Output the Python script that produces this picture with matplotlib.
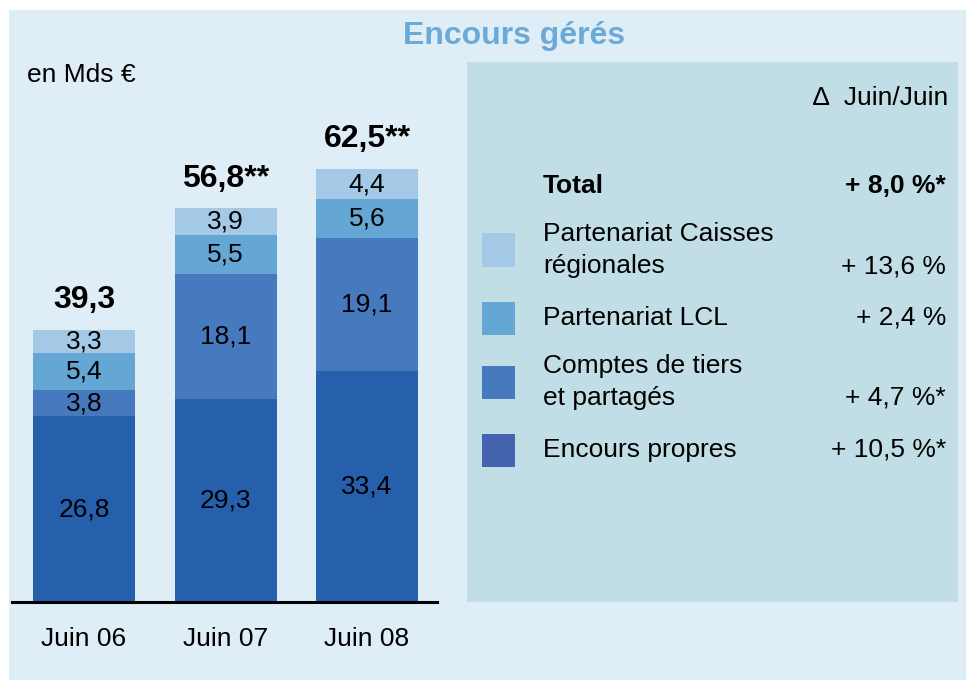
import matplotlib
matplotlib.use("Agg")
import matplotlib.pyplot as plt
from matplotlib.patches import Rectangle
import numpy as np

plt.rcParams['font.family'] = ['Liberation Sans', 'DejaVu Sans']

categories = ["Juin 06", "Juin 07", "Juin 08"]
encours_propres = [26.8, 29.3, 33.4]
comptes_tiers = [3.8, 18.1, 19.1]
partenariat_lcl = [5.4, 5.5, 5.6]
partenariat_cr = [3.3, 3.9, 4.4]
totals = ["39,3", "56,8**", "62,5**"]

legend_labels = ["Partenariat Caisses\nrégionales", "Partenariat LCL",
                 "Comptes de tiers\net partagés", "Encours propres"]
legend_values = ["+ 13,6 %", "+ 2,4 %", "+ 4,7 %*", "+ 10,5 %*"]
total_value = "+ 8,0 %*"

bar_colors = ["#2660AD", "#4779BF", "#64A6D4", "#A4C9E6"]
legend_colors = ["#A4C9E6", "#64A6D4", "#4779BF", "#4464B0"]

W, H = 974, 683
fig = plt.figure(figsize=(W / 100, H / 100), dpi=100, facecolor="white")

FS = 19

def fx(px):
    return px / W

def fy(py):
    return 1 - py / H

# outer light panel
fig.patches.append(Rectangle((fx(9), fy(680)), fx(966) - fx(9), fy(10) - fy(680),
                             transform=fig.transFigure, facecolor="#DFEDF7",
                             edgecolor="none", zorder=-3))
# legend box
fig.patches.append(Rectangle((fx(467), fy(602)), fx(958) - fx(467), fy(62) - fy(602),
                             transform=fig.transFigure, facecolor="#C1DEE6",
                             edgecolor="none", zorder=-2))

# bars axes
ax_left, ax_right, ax_bottom, ax_top = 12, 437, 602, 62
ax = fig.add_axes([fx(ax_left), fy(ax_bottom), fx(ax_right) - fx(ax_left),
                   fy(ax_top) - fy(ax_bottom)])
ax.set_zorder(2)
ax.set_facecolor("none")
px_per_unit = 6.93
ax.set_ylim(0, (ax_bottom - ax_top) / px_per_unit)
spacing = 141.5
ax.set_xlim((ax_left - 84) / spacing, (ax_right - 84) / spacing)

x = np.arange(len(categories))
bw = 102 / spacing
series = [encours_propres, comptes_tiers, partenariat_lcl, partenariat_cr]
bottom = np.zeros(len(categories))
for vals, col in zip(series, bar_colors):
    vals = np.array(vals)
    ax.bar(x, vals, bw, bottom=bottom, color=col, edgecolor="none", zorder=2)
    for xi, b, v in zip(x, bottom, vals):
        ax.text(xi, b + v / 2, f"{v:.1f}".replace(".", ","), ha="center",
                va="center", fontsize=FS, color="black", zorder=3)
    bottom = bottom + vals

for xi, tot, t in zip(x, bottom, totals):
    ax.text(xi, tot + 4.3, t, ha="center", va="center", fontsize=23,
            fontweight="bold", color="black")

for s in ["top", "left", "right"]:
    ax.spines[s].set_visible(False)
ax.spines["bottom"].set_linewidth(2.2)
ax.spines["bottom"].set_zorder(4)
ax.set_yticks([])
ax.set_xticks(x)
ax.set_xticklabels(categories, fontsize=FS)
ax.tick_params(axis="x", length=0, pad=18)

# title & texts
fig.text(fx(514), fy(36), "Encours gérés", ha="center", va="center",
         fontsize=23, fontweight="bold", color="#6BAAD8")
fig.text(fx(27), fy(75), "en Mds €", ha="left", va="center", fontsize=FS)
fig.text(fx(948), fy(98), "∆  Juin/Juin", ha="right", va="center", fontsize=FS)

# legend
tx, vx = 543, 946
fig.text(fx(tx), fy(186), "Total", ha="left", va="center", fontsize=FS,
         fontweight="bold")
fig.text(fx(vx), fy(186), total_value, ha="right", va="center", fontsize=FS,
         fontweight="bold")

rows = [(250, 266), (318, 318), (382, 398), (450, 450)]
for (cy, vy), lab, val, col in zip(rows, legend_labels, legend_values, legend_colors):
    fig.patches.append(Rectangle((fx(482), fy(cy + 16.5)), fx(515) - fx(482), fy(0) - fy(33),
                                 transform=fig.transFigure, facecolor=col,
                                 edgecolor="none", zorder=1))
    fig.text(fx(tx), fy(cy), lab, ha="left", va="center", fontsize=FS,
             linespacing=1.38)
    fig.text(fx(vx), fy(vy), val, ha="right", va="center", fontsize=FS)

fig.savefig("out.png", dpi=100, facecolor="white")
